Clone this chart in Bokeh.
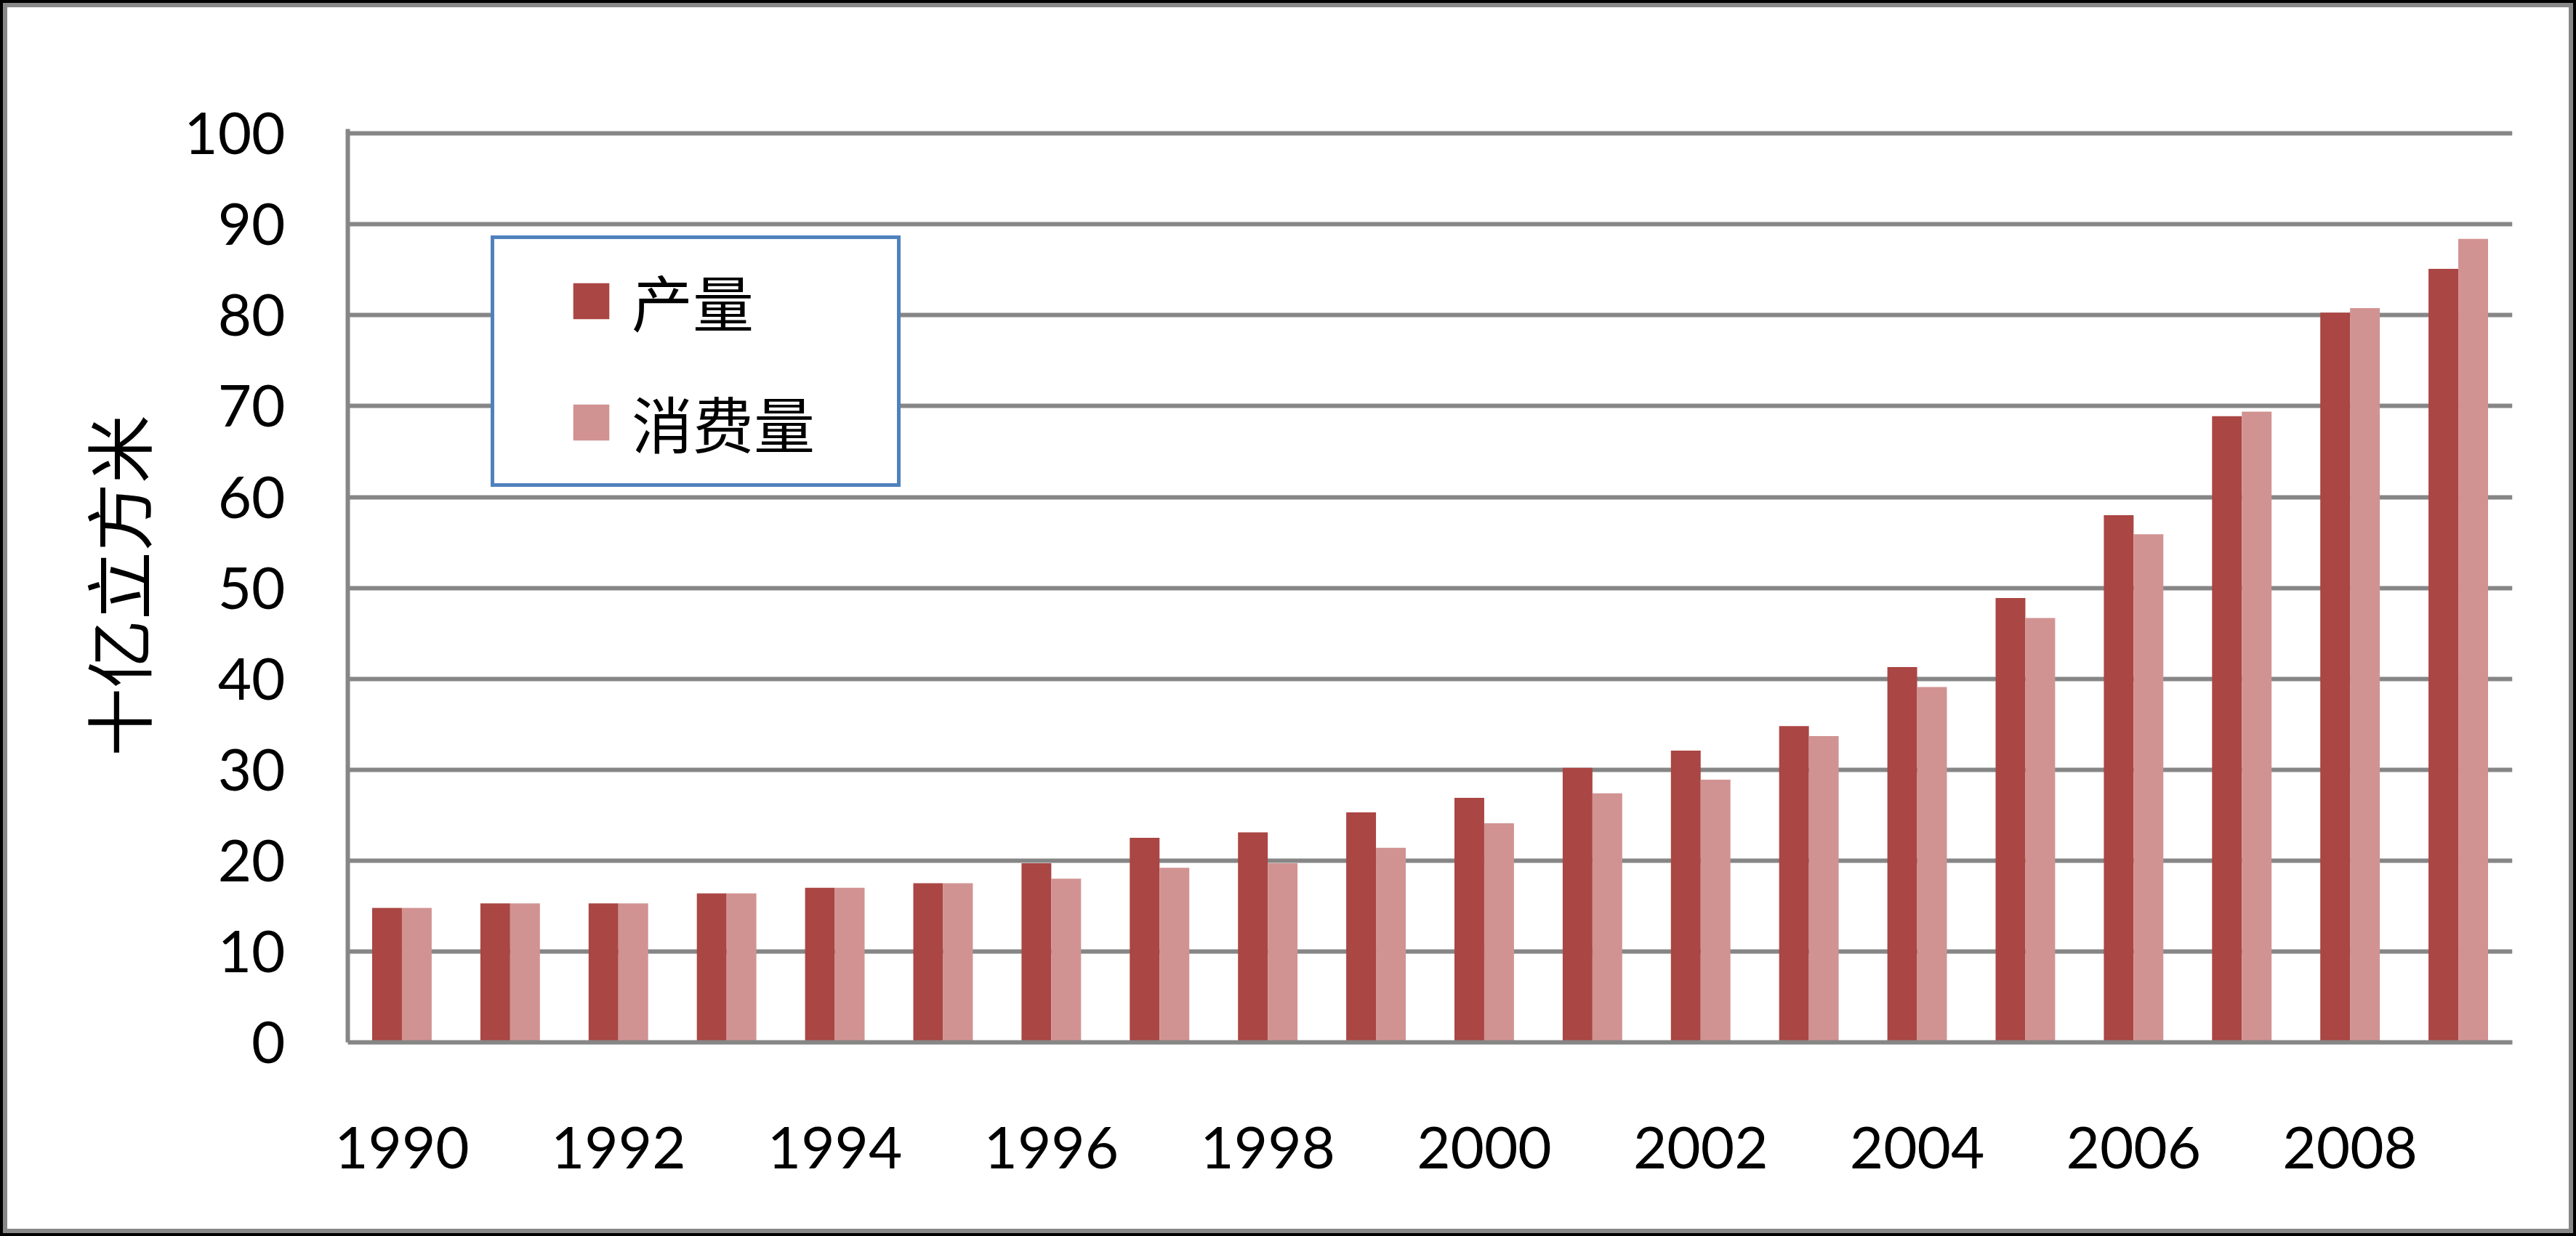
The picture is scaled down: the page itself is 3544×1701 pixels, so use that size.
from bokeh.plotting import figure
from bokeh.models import (ColumnDataSource, Range1d, FixedTicker, SingleIntervalTicker,
                          Legend, LegendItem)
from bokeh.transform import dodge
from bokeh.embed import file_html
from bokeh.resources import INLINE

# ---- data (billion cubic metres) ----
years = [1990, 1991, 1992, 1993, 1994, 1995, 1996, 1997, 1998, 1999,
         2000, 2001, 2002, 2003, 2004, 2005, 2006, 2007, 2008, 2009]
production = [14.8, 15.3, 15.3, 16.4, 17.0, 17.5, 19.7, 22.5, 23.1, 25.3,
              26.9, 30.2, 32.1, 34.8, 41.3, 48.9, 58.0, 68.9, 80.3, 85.1]
consumption = [14.8, 15.3, 15.3, 16.4, 17.0, 17.5, 18.0, 19.2, 19.7, 21.4,
               24.1, 27.4, 28.9, 33.7, 39.1, 46.7, 55.9, 69.4, 80.8, 88.4]
tick_years = [1990, 1992, 1994, 1996, 1998, 2000, 2002, 2004, 2006, 2008]
tick_labels = ["1990", "1992", "1994", "1996", "1998", "2000", "2002", "2004", "2006", "2008"]
series_names = ["产量", "消费量"]
y_title = "十亿立方米"

DARK = "#AA4643"
LIGHT = "#D19392"
GRID = "#868686"

source = ColumnDataSource(dict(year=years, prod=production, cons=consumption))

p = figure(width=3544, height=1701, output_backend="svg", toolbar_location=None,
           x_range=Range1d(years[0] - 0.5, years[-1] + 0.5),
           y_range=Range1d(0, 100.5),
           min_border_left=478, min_border_right=88,
           min_border_top=177, min_border_bottom=267)

p.border_fill_color = None
p.border_fill_alpha = 0
p.background_fill_color = "white"
p.outline_line_color = None
p.styles = {"background-color": "white",
            "box-shadow": "inset 0 0 0 4px #000000, inset 0 0 0 10px #888888"}

bw = 0.275
r1 = p.vbar(x=dodge("year", -bw / 2, range=p.x_range), top="prod", width=bw,
            source=source, fill_color=DARK, line_color=None)
r2 = p.vbar(x=dodge("year", bw / 2, range=p.x_range), top="cons", width=bw,
            source=source, fill_color=LIGHT, line_color=None)

# axes
p.xaxis.ticker = FixedTicker(ticks=tick_years)
p.xaxis.major_label_overrides = {y: s for y, s in zip(tick_years, tick_labels)}
p.yaxis.ticker = SingleIntervalTicker(interval=10)
for ax in (p.xaxis, p.yaxis):
    ax.axis_line_color = GRID
    ax.axis_line_width = 6
    ax.major_tick_line_color = None
    ax.minor_tick_line_color = None
    ax.major_tick_out = 0
    ax.major_tick_in = 0
    ax.major_label_text_font = "Lato"
    ax.major_label_text_font_size = "80px"
    ax.major_label_text_color = "black"
p.xaxis.major_label_standoff = 116
p.yaxis.major_label_standoff = 82

p.yaxis.axis_label = y_title
p.yaxis.axis_label_text_font = "Noto Sans CJK SC"
p.yaxis.axis_label_text_font_size = "94px"
p.yaxis.axis_label_text_font_style = "normal"
p.yaxis.axis_label_text_color = "black"
p.yaxis.axis_label_standoff = 22

p.xgrid.grid_line_color = None
p.ygrid.ticker = SingleIntervalTicker(interval=10)
p.ygrid.grid_line_color = GRID
p.ygrid.grid_line_width = 6

legend = Legend(items=[LegendItem(label=series_names[0], renderers=[r1]),
                       LegendItem(label=series_names[1], renderers=[r2])],
                location=(197, 764),
                title=" ", title_location="left",
                title_text_font_size="40px", title_standoff=33,
                padding=24, spacing=46,
                glyph_width=62, glyph_height=62,
                label_height=100, label_width=341, label_standoff=25,
                label_text_font="Noto Sans CJK SC", label_text_font_size="84px",
                label_text_color="black",
                border_line_color="#4F81BD", border_line_width=5, border_line_alpha=1.0,
                background_fill_color="white", background_fill_alpha=1.0)
p.add_layout(legend)

open("out.html", "w").write(file_html(p, INLINE))
